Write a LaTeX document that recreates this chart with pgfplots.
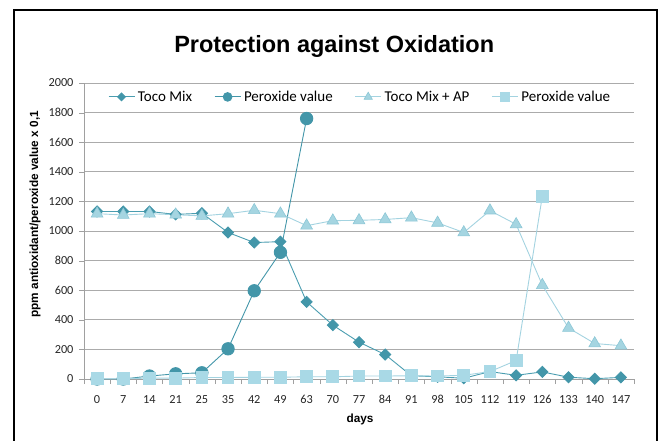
\documentclass[border=0pt]{standalone}
\usepackage{pgfplots}
\pgfplotsset{compat=1.18}
\usepackage{fontspec}
\setmainfont{Carlito}
\newfontfamily\arial{Liberation Sans}
\definecolor{dkteal}{HTML}{4396A9}
\definecolor{dkline}{HTML}{4A9DB0}
\definecolor{ltfill}{HTML}{A5D5E1}
\definecolor{ltedge}{HTML}{8CC7D6}
\definecolor{ltline}{HTML}{A3D3E0}
\definecolor{sqfill}{HTML}{A9D9E6}
\definecolor{gridc}{HTML}{ABABAB}
\definecolor{axisc}{HTML}{A0A0A0}
\begin{document}
\begin{tikzpicture}
\useasboundingbox (0pt,0pt) rectangle (661pt,-441pt);
\draw[black,line width=1.2pt] (14pt,-445pt) -- (14pt,-10pt) -- (657pt,-10pt) -- (657pt,-445pt);
\begin{axis}[
  at={(84pt,-379pt)}, anchor=south west,
  scale only axis, width=550pt, height=296pt,
  xmin=-0.5, xmax=20.5, ymin=0, ymax=2000,
  xtick={0,...,20},
  xticklabels={0,7,14,21,25,35,42,49,63,70,77,84,91,98,105,112,119,126,133,140,147},
  minor xtick={-0.5,0.5,...,20.5},
  ytick={0,200,...,2000},
  major tick length=5pt, minor tick length=5pt,
  xtick style={draw=none},
  minor x tick style={draw=axisc},
  ytick style={draw=axisc},
  tick align=outside,
  axis x line*=bottom, axis y line*=left,
  axis line style={draw=axisc, line width=0.9pt, -},
  ymajorgrids, grid style={gridc, line width=0.9pt},
  tick label style={font=\fontsize{12.3}{14}\selectfont, text=black!85},
  /pgf/number format/assume math mode=true,
  /pgf/number format/set thousands separator={},
  xticklabel style={yshift=-8pt},
  yticklabel style={xshift=-2pt},
  xlabel={\arial\bfseries days},
  xlabel style={at={(axis description cs:0.502,-0.135)}, anchor=center, font=\fontsize{11.8}{13}\selectfont},
  ylabel={\arial\bfseries ppm antioxidant/peroxide value x 0,1},
  ylabel style={at={(axis description cs:-0.089,0.556)}, anchor=center, font=\fontsize{11.8}{13}\selectfont},
  clip=false,
  legend columns=4,
  legend style={at={(axis description cs:0.502,0.953)}, anchor=center, draw=none, fill=none,
    font=\fontsize{15}{17}\selectfont,
    /tikz/every even column/.append style={column sep=20pt},
    /tikz/every odd column/.append style={column sep=1pt},
    inner sep=0pt},
  legend image code/.code={\draw[mark repeat=2,mark phase=2, every mark/.append style={scale=0.7}] plot coordinates {(0pt,0pt) (13pt,0pt) (26pt,0pt)};},
]
\addplot[dkline, line width=0.9pt, mark=square*, mark size=3.9pt, mark options={rotate=45, fill=dkteal, draw=dkteal}]
  coordinates {(0,1132)(1,1132)(2,1132)(3,1112)(4,1120)(5,990)(6,922)(7,928)(8,521)(9,364)(10,249)(11,165)(12,22)(13,15)(14,5)(15,50)(16,25)(17,48)(18,12)(19,2)(20,11)};
\addlegendentry{Toco Mix}
\addplot[dkteal, line width=0.9pt, mark=*, mark size=6.2pt, mark options={fill=dkteal, draw=dkteal}]
  coordinates {(0,0)(1,0)(2,20)(3,35)(4,42)(5,204)(6,596)(7,856)(8,1760)};
\addlegendentry{Peroxide value}
\addplot[ltline, line width=0.9pt, mark=triangle*, mark size=6.8pt, mark options={fill=ltfill, draw=ltedge, line width=0.6pt}]
  coordinates {(0,1117)(1,1108)(2,1117)(3,1110)(4,1102)(5,1117)(6,1140)(7,1117)(8,1036)(9,1070)(10,1072)(11,1078)(12,1090)(13,1055)(14,990)(15,1138)(16,1045)(17,634)(18,345)(19,240)(20,225)};
\addlegendentry{Toco Mix + AP}
\addplot[ltline, line width=0.9pt, mark=square*, mark size=5.9pt, mark options={fill=sqfill, draw=sqfill}]
  coordinates {(0,2)(1,2)(2,6)(3,6)(4,10)(5,10)(6,12)(7,12)(8,15)(9,15)(10,20)(11,20)(12,22)(13,20)(14,25)(15,50)(16,125)(17,1236)};
\addlegendentry{Peroxide value}
\node[font=\arial\fontsize{23.5}{27}\selectfont\bfseries, anchor=center] at (axis description cs:0.455,1.122) {Protection against Oxidation};
\end{axis}
\end{tikzpicture}
\end{document}
